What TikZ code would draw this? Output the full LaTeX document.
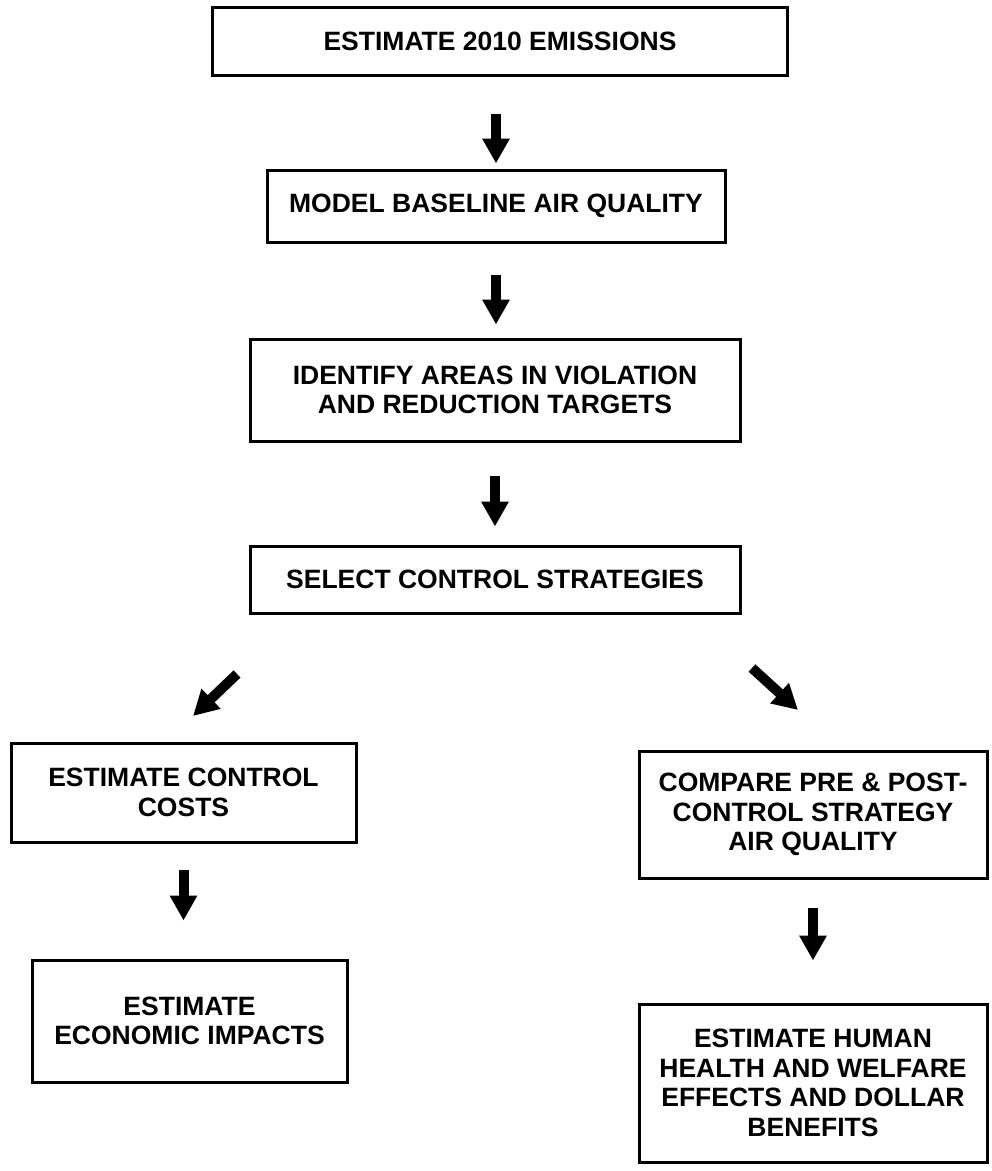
\documentclass[tikz,border=0pt]{standalone}
\usepackage{fontspec}
\setmainfont{Liberation Sans}
\usepackage{tikz}
\usetikzlibrary{arrows.meta, calc}

\tikzset{
    stepbox/.style={draw, line width=3pt, align=center, inner sep=0pt,
        font=\fontsize{26.5}{29.5}\selectfont\bfseries},
    bigarrow/.style={line width=10pt, -{Triangle[width=26pt, length=25pt]}}
}

\begin{document}
\begin{tikzpicture}[x=1pt, y=-1pt]
    \useasboundingbox (0,0) rectangle (992,1171);

    % main column
    \node[stepbox, minimum width=575pt, minimum height=68pt] (emis) at (500,41) {ESTIMATE 2010 EMISSIONS};
    \node[stepbox, minimum width=458pt, minimum height=72pt] (base) at (496,206) {MODEL BASELINE AIR QUALITY};
    \node[stepbox, minimum width=490pt, minimum height=102pt] (viol) at (495,390) {IDENTIFY AREAS IN VIOLATION\\AND REDUCTION TARGETS};
    \node[stepbox, minimum width=490pt, minimum height=67pt] (select) at (495,579.5) {SELECT CONTROL STRATEGIES};

    % left branch
    \node[stepbox, minimum width=345pt, minimum height=99pt] (costs) at (183.5,792.5) {ESTIMATE CONTROL\\COSTS};
    \node[stepbox, minimum width=315pt, minimum height=122pt] (econ) at (189.5,1021) {ESTIMATE\\ECONOMIC IMPACTS};

    % right branch
    \node[stepbox, minimum width=348pt, minimum height=127pt] (comp) at (813,814.5) {COMPARE PRE \& POST-\\CONTROL STRATEGY\\AIR QUALITY};
    \node[stepbox, minimum width=348pt, minimum height=158pt] (health) at (813,1083) {ESTIMATE HUMAN\\HEALTH AND WELFARE\\EFFECTS AND DOLLAR\\BENEFITS};

    \draw[bigarrow, shorten <=37pt, shorten >=5pt] (emis.south -| base.north) -- (base.north);
    \draw[bigarrow, shorten <=31pt, shorten >=13pt] (base.south) -- (base.south |- viol.north);
    \draw[bigarrow, shorten <=33pt, shorten >=18pt] (viol.south) -- (viol.south |- select.north);

    \coordinate (ltail) at (237,674);
    \coordinate (ltip) at (193,716);
    \coordinate (rtail) at (752,668);
    \coordinate (rtip) at (798,710);
    \draw[bigarrow] (ltail) -- (ltip);
    \draw[bigarrow] (rtail) -- (rtip);

    \draw[bigarrow, shorten <=26pt, shorten >=38pt] (costs.south) -- (costs.south |- econ.north);
    \draw[bigarrow, shorten <=28pt, shorten >=42pt] (comp.south) -- (health.north);
\end{tikzpicture}
\end{document}
